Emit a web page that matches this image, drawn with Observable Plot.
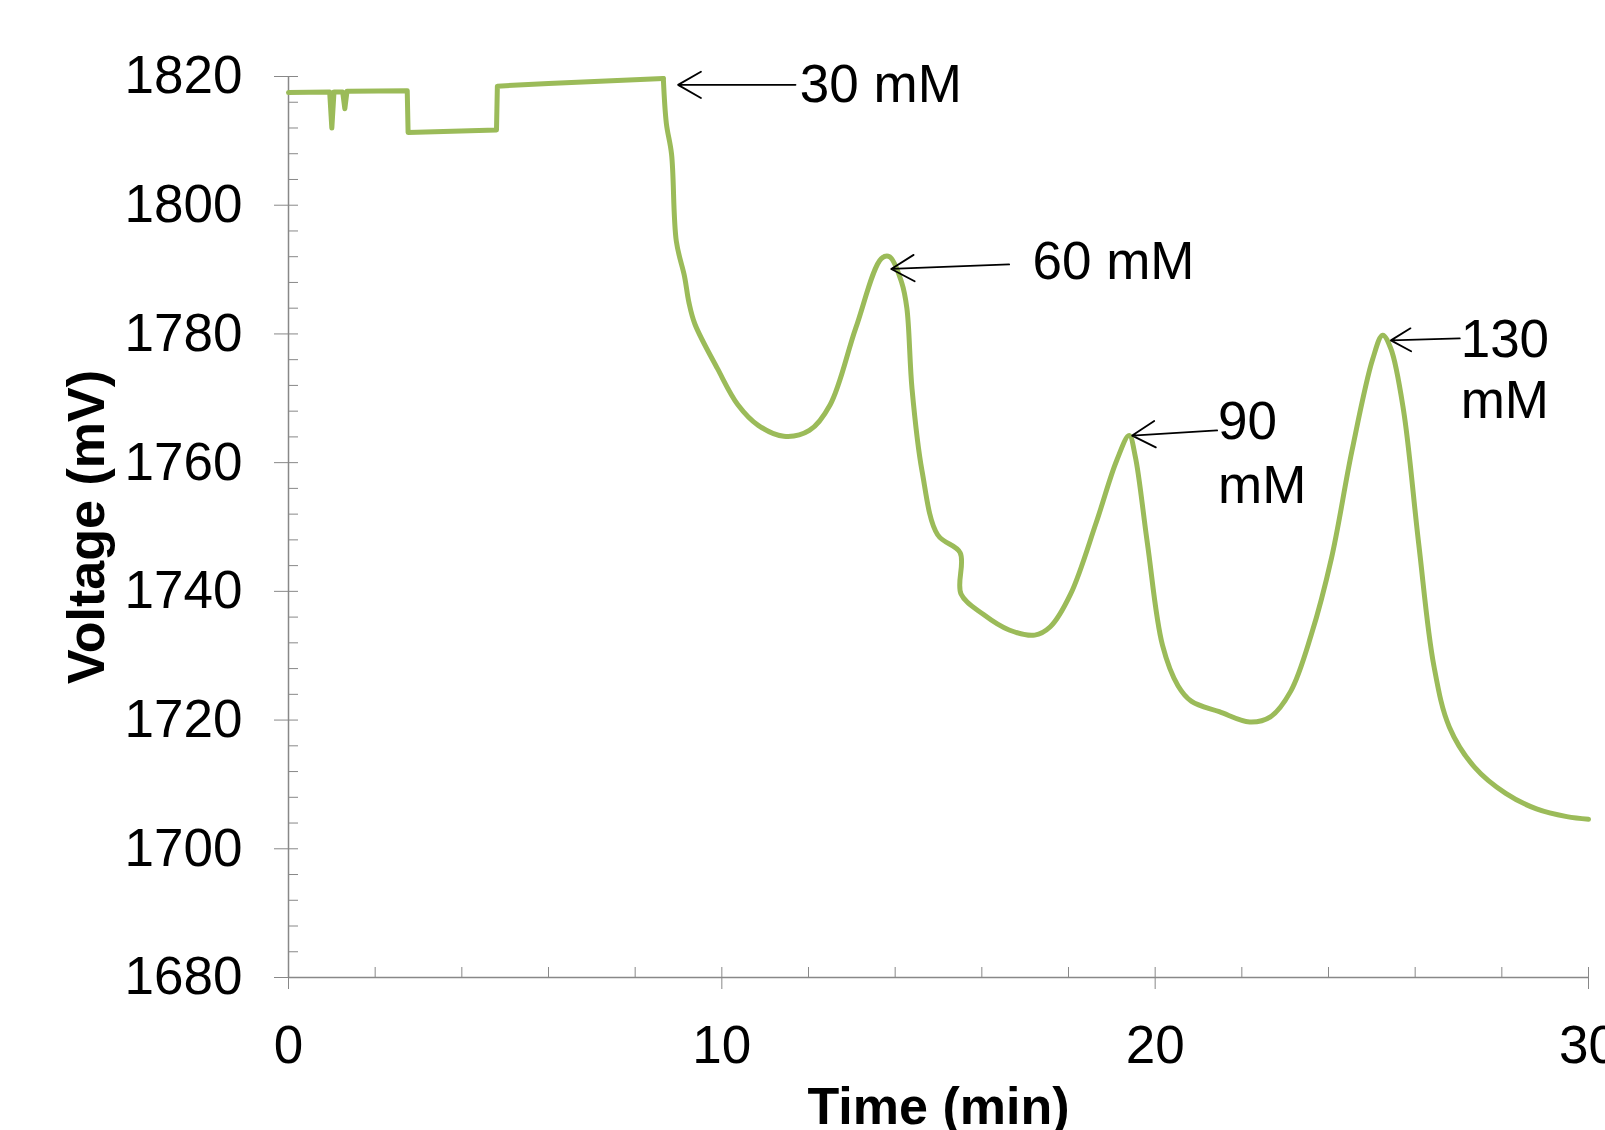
<!DOCTYPE html>
<html><head><meta charset="utf-8">
<script src="https://cdn.jsdelivr.net/npm/d3@7"></script>
<script src="https://cdn.jsdelivr.net/npm/@observablehq/plot@0.6"></script>
<style>html,body{margin:0;background:#fff;overflow:hidden;font-family:"Liberation Sans",Arial,sans-serif} svg{max-width:none!important}</style>
</head><body><div id="chart"></div>
<script>
const time = [0,0.95,1.0,1.05,1.1,1.25,1.3,1.35,1.4,2.74,2.76,4.8,4.82,6,8.65,8.72,8.84,8.95,9.14,9.24,9.38,9.9,10.37,10.84,11.43,12.02,12.5,13.09,13.68,13.87,14.15,14.27,14.39,14.62,14.98,15.5,15.52,16.04,16.63,17.22,17.58,18.05,18.64,19.11,19.4,19.54,19.82,20.17,20.53,20.84,21.48,22.18,22.66,23.13,23.6,24.07,24.54,25.02,25.25,25.44,25.73,26.08,26.43,26.79,27.38,28.09,28.8,29.5,30];
const voltage = [1817.5,1817.6,1812,1817.6,1817.6,1817.6,1815,1817.7,1817.7,1817.8,1811.3,1811.7,1818.5,1818.9,1819.7,1812.7,1807.9,1794.4,1788.9,1784.9,1781.5,1774.6,1769,1765.8,1764.1,1765,1769,1780.9,1791.7,1792,1788,1784,1771.4,1758.7,1748.8,1746,1739.6,1736.4,1734,1733.2,1734.5,1739.6,1750.7,1760.3,1764.2,1761,1747.5,1731.6,1725.3,1722.9,1721.3,1719.7,1720.5,1724.5,1733.2,1745.2,1761.8,1776.1,1779.8,1777.7,1768.2,1747.5,1728.5,1718.9,1712.6,1708.6,1706.2,1705,1704.6];
const labels = ["30 mM","60 mM","90","mM","130","mM"];
const labelX = [11.8,17.17,21.45,21.45,27.05,27.05];
const labelY = [1818.7,1791.2,1766.3,1756.3,1779,1769.5];
const arrowX1 = [11.7,16.63,21.43,27.03], arrowY1 = [1818.7,1790.8,1765,1779.3];
const arrowX2 = [8.99,13.91,19.47,25.44], arrowY2 = [1818.7,1790.1,1764.2,1779];

const series = time.map((t,i)=>({t, v: voltage[i]}));
const notes = labels.map((s,i)=>({s, x: labelX[i], y: labelY[i]}));
const arrows = arrowX1.map((x,i)=>({x1:x,y1:arrowY1[i],x2:arrowX2[i],y2:arrowY2[i]}));

const chart = Plot.plot({
  width: 1605, height: 1130,
  marginLeft: 288, marginRight: 17, marginTop: 76, marginBottom: 153,
  style: {fontFamily: '"Liberation Sans", Arial, sans-serif', fontSize: 53, color: "#000", overflow: "visible"},
  x: {domain: [0,30]},
  y: {domain: [1680,1820]},
  marks: [
    Plot.axisY({ticks: d3.range(1680,1821,4), tickSize: -10, text: null, stroke: "#888", label: null}),
    Plot.axisX({ticks: d3.range(0,31,2), tickSize: -10, text: null, stroke: "#888", label: null}),
    Plot.axisY({ticks: d3.range(1680,1821,20), tickSize: 14, tickPadding: 32, stroke: "#888", tickFormat: d => String(d), fontSize: 53, label: null}),
    Plot.axisX({ticks: [0,10,20,30], tickSize: 12, tickPadding: 36, stroke: "#888", fontSize: 53, label: null}),
    Plot.ruleX([0], {stroke: "#888", strokeWidth: 1.5}),
    Plot.ruleY([1680], {stroke: "#888", strokeWidth: 1.5}),
    Plot.line(series.filter(d => d.t <= 8.65), {x: "t", y: "v", stroke: "#9bbb59", strokeWidth: 5}),
    Plot.line(series.filter(d => d.t >= 8.65), {x: "t", y: "v", stroke: "#9bbb59", strokeWidth: 5, curve: "catmull-rom"}),
    Plot.arrow(arrows, {x1: "x1", y1: "y1", x2: "x2", y2: "y2", bend: 0, headLength: 22, strokeWidth: 1.8, stroke: "#000"}),
    Plot.text(notes, {x: "x", y: "y", text: "s", textAnchor: "start", fontSize: 53, fill: "#000"}),
    Plot.text(["Time (min)"], {frameAnchor: "bottom", dy: 146, fontSize: 52, fontWeight: "bold", fill: "#000"}),
    Plot.text(["Voltage (mV)"], {frameAnchor: "left", dx: -201, rotate: -90, textAnchor: "middle", fontSize: 52, fontWeight: "bold", fill: "#000"})
  ]
});
document.getElementById("chart").append(chart);
</script></body></html>
